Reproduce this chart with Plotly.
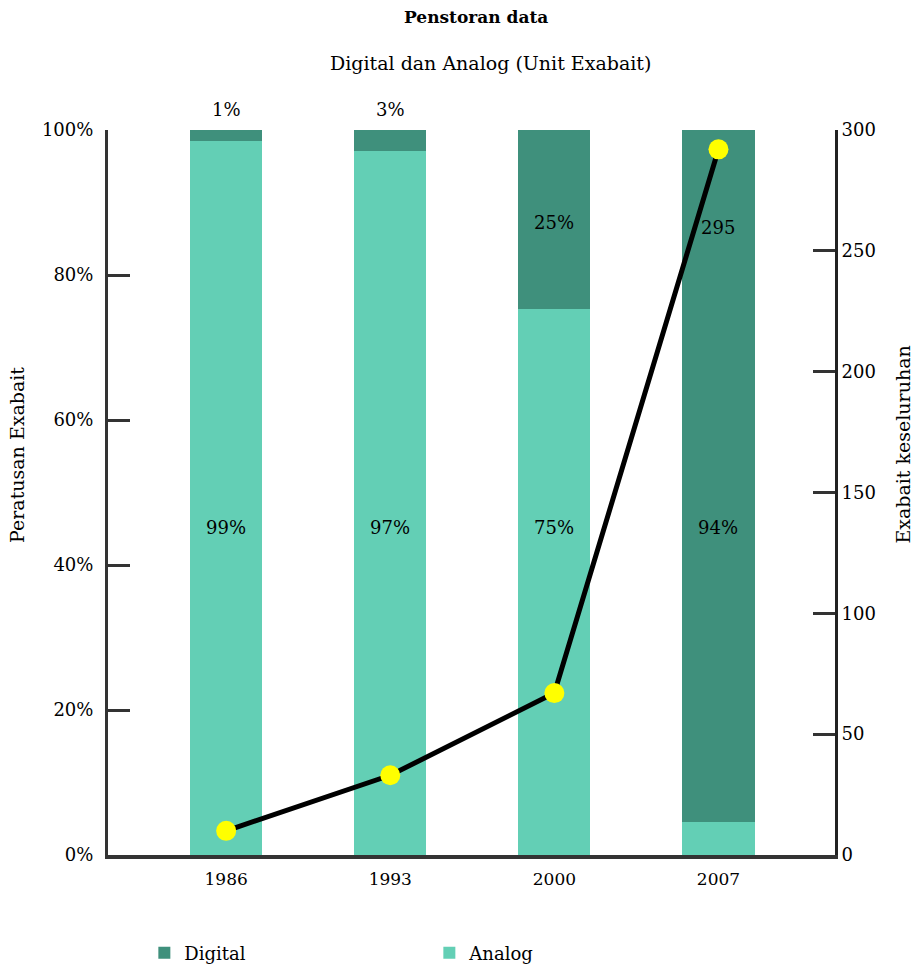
import plotly.graph_objects as go

years = ["1986", "1993", "2000", "2007"]
analog_pct = [98.5, 97.1, 75.3, 4.5]
digital_pct = [1.5, 2.9, 24.7, 95.5]
total_exabytes = [10, 33, 67, 292]
digital_labels = ["1%", "3%", "25%", "295"]
digital_label_y = [1.028, 1.028, 0.872, 0.866]   # paper fractions of plot height
analog_labels = ["99%", "97%", "75%", "94%"]
analog_label_y = [0.452, 0.452, 0.452, 0.452]

FONT = "DejaVu Serif"
DARK = "#3F907C"
LIGHT = "#63CFB5"

fig = go.Figure()
fig.add_trace(go.Bar(x=years, y=analog_pct, name="Analog", marker_color=LIGHT,
                     marker_line_width=0, width=0.44))
fig.add_trace(go.Bar(x=years, y=digital_pct, name="Digital", marker_color=DARK,
                     marker_line_width=0, width=0.44))
fig.add_trace(go.Scatter(x=years, y=total_exabytes, yaxis="y2", mode="lines+markers",
                         line=dict(color="black", width=5),
                         marker=dict(color="#FFFF00", size=20, line=dict(width=0)),
                         showlegend=False, cliponaxis=False))

fig.update_layout(
    width=914, height=969,
    margin=dict(l=108, r=79, t=130, b=114),
    paper_bgcolor="white", plot_bgcolor="white",
    barmode="stack",
    font=dict(family=FONT, size=17, color="black"),
    title=dict(text="<b>Penstoran data</b>", x=0.521, xanchor="center", y=0.982,
               yanchor="middle", font=dict(family=FONT, size=17, color="black")),
    xaxis=dict(type="category", range=[-0.72, 3.71], showline=True, linecolor="#333",
               linewidth=4, ticks="", showgrid=False, tickfont=dict(size=17),
               ticklabelstandoff=6),
    yaxis=dict(range=[0, 100], tickvals=[0, 20, 40, 60, 80, 100],
               ticktext=["0%", "20%", "40%", "60%", "80%", "100%"],
               showline=True, linecolor="#333", linewidth=3, ticks="inside",
               ticklen=22, tickwidth=3, tickcolor="#333", showgrid=False, zeroline=False,
               ticklabelstandoff=8, tickfont=dict(size=18)),
    yaxis2=dict(range=[0, 300], tickvals=[0, 50, 100, 150, 200, 250, 300],
                overlaying="y", side="right", showline=True, linecolor="#222",
                linewidth=3, ticks="inside", ticklen=22, tickwidth=3, tickcolor="#333",
                showgrid=False, zeroline=False, tickfont=dict(size=18)),
    legend=dict(orientation="h", x=0.05, xanchor="left", xref="paper",
                y=0.0165, yanchor="middle", yref="container",
                traceorder="reversed", entrywidth=240, entrywidthmode="pixels",
                font=dict(size=18)),
)

fig.add_annotation(xref="paper", yref="paper", x=0.526, y=1.093, yanchor="middle",
                   text="Digital dan Analog (Unit Exabait)", showarrow=False,
                   font=dict(family=FONT, size=19, color="black"))
fig.add_annotation(xref="paper", yref="paper", x=-0.125, y=0.552, textangle=-90,
                   xanchor="center", yanchor="middle",
                   text="Peratusan Exabait", showarrow=False,
                   font=dict(family=FONT, size=19, color="black"))
fig.add_annotation(xref="paper", yref="paper", x=1.0935, y=0.566, textangle=-90,
                   xanchor="center", yanchor="middle",
                   text="Exabait keseluruhan", showarrow=False,
                   font=dict(family=FONT, size=19, color="black"))
for i, (lbl, yy) in enumerate(zip(digital_labels, digital_label_y)):
    fig.add_annotation(x=i, y=yy, xref="x", yref="paper", text=lbl, showarrow=False,
                       yanchor="middle", font=dict(family=FONT, size=18, color="black"))
for i, (lbl, yy) in enumerate(zip(analog_labels, analog_label_y)):
    fig.add_annotation(x=i, y=yy, xref="x", yref="paper", text=lbl, showarrow=False,
                       yanchor="middle", font=dict(family=FONT, size=18, color="black"))

fig.write_html("out.html")
